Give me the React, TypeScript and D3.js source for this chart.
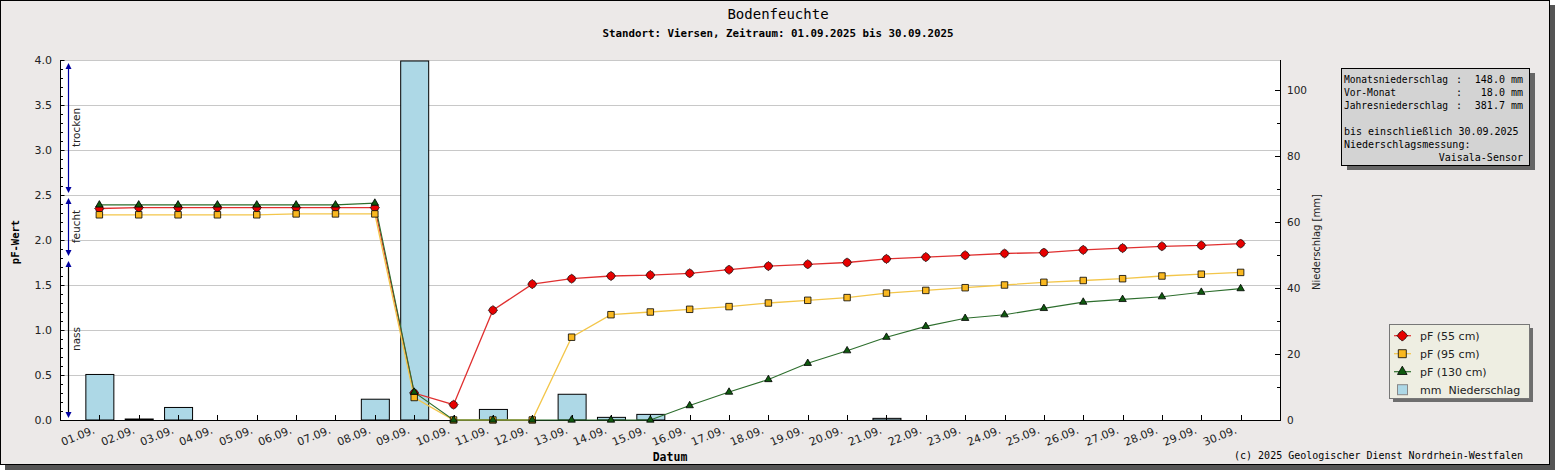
import React from 'react';
import * as d3 from 'd3';

// ---------- data ----------
const dates = [
  '01.09.', '02.09.', '03.09.', '04.09.', '05.09.', '06.09.', '07.09.', '08.09.', '09.09.', '10.09.',
  '11.09.', '12.09.', '13.09.', '14.09.', '15.09.', '16.09.', '17.09.', '18.09.', '19.09.', '20.09.',
  '21.09.', '22.09.', '23.09.', '24.09.', '25.09.', '26.09.', '27.09.', '28.09.', '29.09.', '30.09.',
];
const pf55 = [2.35, 2.36, 2.36, 2.36, 2.36, 2.36, 2.36, 2.36, 0.3, 0.17, 1.22, 1.51, 1.57, 1.6, 1.61, 1.63, 1.67, 1.71, 1.73, 1.75, 1.79, 1.81, 1.83, 1.85, 1.86, 1.89, 1.91, 1.93, 1.94, 1.96];
const pf95 = [2.28, 2.28, 2.28, 2.28, 2.28, 2.29, 2.29, 2.29, 0.25, 0, 0, 0, 0.92, 1.17, 1.2, 1.23, 1.26, 1.3, 1.33, 1.36, 1.41, 1.44, 1.47, 1.5, 1.53, 1.55, 1.57, 1.6, 1.62, 1.64];
const pf130 = [2.39, 2.39, 2.39, 2.39, 2.39, 2.39, 2.39, 2.41, 0.31, 0, 0, 0, 0, 0, 0, 0.16, 0.31, 0.45, 0.63, 0.77, 0.92, 1.04, 1.13, 1.17, 1.24, 1.31, 1.34, 1.37, 1.42, 1.46];
const precip = [13.8, 0.3, 3.8, 0, 0, 0, 0, 6.3, 108.8, 0, 3.2, 0, 7.8, 0.8, 1.7, 0, 0, 0, 0, 0, 0.5, 0, 0, 0, 0, 0, 0, 0, 0, 0];

const pfTicks = [0, 0.5, 1, 1.5, 2, 2.5, 3, 3.5, 4];
const pfMinorTicks = d3.range(0, 41).map((k) => k / 10);
const mmTicks = [0, 10, 20, 30, 40, 50, 60, 70, 80, 90, 100];
const mmLabels = [0, 20, 40, 60, 80, 100];

const zones = [
  { label: 'trocken', top: 4.0, bottom: 2.5, line: '#0000a0' },
  { label: 'feucht', top: 2.5, bottom: 1.8, line: '#0000a0' },
  { label: 'nass', top: 1.8, bottom: 0.0, line: '#000000' },
];

const infoRows = [
  { label: 'Monatsniederschlag', value: '148.0 mm' },
  { label: 'Vor-Monat', value: '18.0 mm' },
  { label: 'Jahresniederschlag', value: '381.7 mm' },
];
const infoFoot = ['bis einschließlich 30.09.2025', 'Niederschlagsmessung:'];
const infoSensor = 'Vaisala-Sensor';

const title = 'Bodenfeuchte';
const subtitle = 'Standort: Viersen, Zeitraum: 01.09.2025 bis 30.09.2025';
const copyright = '(c) 2025 Geologischer Dienst Nordrhein-Westfalen';

// ---------- styles ----------
const MONO = "'DejaVu Sans Mono', 'Liberation Mono', monospace";
const SANS = "'DejaVu Sans', 'Noto Sans', sans-serif";
const BG = '#ece9e8';
const C55 = { line: '#e03030', fill: '#e60000' };
const C95 = { line: '#f3c64a', fill: '#f9b820' };
const C130 = { line: '#2d6e2d', fill: '#0f5a0f' };

const W = 1555;
const H = 470;
const P = { left: 60, right: 1280, top: 60, bottom: 420 };

function redPath(rAxis: number, rCircle: number) {
  const gen = d3
    .lineRadial<number>()
    .angle((a) => a)
    .radius((a) => Math.max(rCircle, rAxis / (Math.abs(Math.cos(a)) + Math.abs(Math.sin(a)))))
    .curve(d3.curveLinearClosed);
  return gen(d3.range(0, 48).map((k) => (k / 48) * Math.PI * 2)) || '';
}

export default function App() {
  const x = d3.scalePoint<string>().domain(dates).range([P.left, P.right]).padding(1);
  const y = d3.scaleLinear().domain([0, 4]).range([P.bottom, P.top]);
  const yR = d3.scaleLinear().domain([0, 109.1]).range([P.bottom, P.top]);

  const line = d3
    .line<number>()
    .x((_, i) => x(dates[i]) as number)
    .y((d) => y(d));

  const redM = redPath(4.6, 3.8);
  const redL = redPath(5.4, 4.2);
  const sq = d3.symbol(d3.symbolSquare, 42)() || '';
  const sqL = d3.symbol(d3.symbolSquare, 64)() || '';
  const tri = d3.symbol(d3.symbolTriangle, 24)() || '';
  const triL = d3.symbol(d3.symbolTriangle, 40)() || '';

  const barW = 28;
  const ax = 68.5;

  const arrow = (tipY: number, dir: number) =>
    `M${ax},${tipY} L${ax - 3},${tipY - dir * 6} L${ax + 3},${tipY - dir * 6} Z`;

  const legendItems = [
    { label: 'pF (55 cm)', c: C55, kind: 'red' },
    { label: 'pF (95 cm)', c: C95, kind: 'sq' },
    { label: 'pF (130 cm)', c: C130, kind: 'tri' },
    { label: 'mm  Niederschlag', c: C55, kind: 'bar' },
  ];

  return (
    <div style={{ position: 'fixed', left: 0, top: 0 }}>
      <svg width={W} height={H} style={{ display: 'block' }}>
        {/* frame */}
        <rect x={5} y={5} width={1550} height={465} fill="#555" />
        <rect x={0.5} y={0.5} width={1549} height={464} fill={BG} stroke="#000" />

        {/* titles */}
        <text x={778} y={19} textAnchor="middle" fontFamily={MONO} fontSize={14} fill="#000">
          {title}
        </text>
        <text x={778} y={37} textAnchor="middle" fontFamily={MONO} fontSize={10.8} fontWeight="bold" fill="#000">
          {subtitle}
        </text>

        {/* plot background */}
        <rect x={P.left} y={P.top} width={P.right - P.left} height={P.bottom - P.top} fill="#fff" />

        {/* grid */}
        {pfTicks.map((t) => (
          <line key={'g' + t} x1={P.left} x2={P.right} y1={Math.round(y(t)) + 0.5} y2={Math.round(y(t)) + 0.5} stroke="#c8c8c8" />
        ))}

        {/* bars */}
        {precip.map((v, i) =>
          v > 0 ? (
            <rect
              key={'b' + i}
              x={(x(dates[i]) as number) - barW / 2 + 0.5}
              y={yR(v)}
              width={barW}
              height={Math.max(P.bottom - yR(v), 0.6)}
              fill="#add8e6"
              stroke="#000"
              strokeWidth={1}
            />
          ) : null
        )}

        {/* axes lines */}
        <line x1={P.left + 0.5} x2={P.left + 0.5} y1={P.top} y2={P.bottom + 1} stroke="#000" />
        <line x1={P.right + 0.5} x2={P.right + 0.5} y1={P.top} y2={P.bottom + 1} stroke="#000" />
        <line x1={P.left} x2={P.right + 1} y1={P.bottom + 0.5} y2={P.bottom + 0.5} stroke="#000" />

        {/* left ticks */}
        {pfMinorTicks.map((t) => (
          <line key={'lm' + t} x1={P.left} x2={P.left + 3} y1={Math.round(y(t)) + 0.5} y2={Math.round(y(t)) + 0.5} stroke="#000" />
        ))}
        {pfTicks.map((t) => (
          <g key={'lt' + t}>
            <line x1={P.left} x2={P.left + 4.5} y1={Math.round(y(t)) + 0.5} y2={Math.round(y(t)) + 0.5} stroke="#000" />
            <text x={52} y={y(t) + 4} textAnchor="end" fontFamily={SANS} fontSize={11} fill="#222">
              {t.toFixed(1)}
            </text>
          </g>
        ))}

        {/* right ticks */}
        {mmTicks.map((t) => (
          <line
            key={'rt' + t}
            x1={P.right - (mmLabels.includes(t) ? 5 : 3)}
            x2={P.right}
            y1={Math.round(yR(t)) + 0.5}
            y2={Math.round(yR(t)) + 0.5}
            stroke="#000"
          />
        ))}
        {mmLabels.map((t) => (
          <text key={'rl' + t} x={1287} y={yR(t) + 4} fontFamily={SANS} fontSize={10.5} fill="#222">
            {t}
          </text>
        ))}
        <text
          transform={`translate(1320,242) rotate(-90)`}
          textAnchor="middle"
          fontFamily={SANS}
          fontSize={10}
          fill="#222"
        >
          Niederschlag [mm]
        </text>

        {/* bottom ticks & labels */}
        {dates.map((d) => {
          const xx = Math.round(x(d) as number) + 0.5;
          return (
            <g key={'xt' + d}>
              <line x1={xx} x2={xx} y1={P.bottom - 5} y2={P.bottom} stroke="#000" />
              <text
                transform={`translate(${xx - 4},433) rotate(-22)`}
                textAnchor="end"
                fontFamily={SANS}
                fontSize={11}
                fill="#222"
              >
                {d}
              </text>
            </g>
          );
        })}
        <text x={670} y={461} textAnchor="middle" fontFamily={MONO} fontSize={11.5} fontWeight="bold" fill="#000">
          Datum
        </text>
        <text
          transform={`translate(19,242) rotate(-90)`}
          textAnchor="middle"
          fontFamily={MONO}
          fontSize={10.5}
          fontWeight="bold"
          fill="#000"
        >
          pF-Wert
        </text>

        {/* zone annotations */}
        {zones.map((z) => {
          const yt = y(z.top) + 3;
          const yb = y(z.bottom) - 2;
          const mid = (y(z.top) + y(z.bottom)) / 2;
          return (
            <g key={z.label}>
              <line x1={ax} x2={ax} y1={yt + 3} y2={yb - 3} stroke={z.line} strokeWidth={1.2} />
              <path d={arrow(yt, -1)} fill="#0000a0" />
              <path d={arrow(yb, 1)} fill="#0000a0" />
              <text
                transform={`translate(80,${mid}) rotate(-90)`}
                textAnchor="middle"
                fontFamily={SANS}
                fontSize={10.5}
                fill="#222"
              >
                {z.label}
              </text>
            </g>
          );
        })}

        {/* lines */}
        <path d={line(pf55) || ''} fill="none" stroke={C55.line} strokeWidth={1.3} />
        <path d={line(pf95) || ''} fill="none" stroke={C95.line} strokeWidth={1.3} />
        <path d={line(pf130) || ''} fill="none" stroke={C130.line} strokeWidth={1.1} />

        {/* markers */}
        {pf55.map((v, i) => (
          <path key={'m55' + i} d={redM} transform={`translate(${x(dates[i])},${y(v)})`} fill={C55.fill} stroke="#000" strokeWidth={0.8} />
        ))}
        {pf95.map((v, i) => (
          <path key={'m95' + i} d={sq} transform={`translate(${x(dates[i])},${y(v)})`} fill={C95.fill} stroke="#000" strokeWidth={0.8} />
        ))}
        {pf130.map((v, i) => (
          <path key={'m130' + i} d={tri} transform={`translate(${x(dates[i])},${y(v)})`} fill={C130.fill} stroke="#000" strokeWidth={0.8} />
        ))}

        {/* info box */}
        <rect x={1347} y={73} width={188} height={97} fill="#666" />
        <rect x={1341.5} y={68.5} width={188} height={97} fill="#d3d3d3" stroke="#000" />
        {infoRows.map((r, i) => (
          <g key={r.label} fontFamily={MONO} fill="#000">
            <text x={1344} y={83 + i * 13} fontSize={9.6}>{r.label}</text>
            <text x={1459} y={83 + i * 13} fontSize={10} textAnchor="middle">:</text>
            <text x={1523} y={83 + i * 13} fontSize={10} textAnchor="end">{r.value}</text>
          </g>
        ))}
        {infoFoot.map((t, i) => (
          <text key={t} x={1344} y={134.5 + i * 13} fontFamily={MONO} fontSize={10} fill="#000">
            {t}
          </text>
        ))}
        <text x={1523} y={160.5} textAnchor="end" fontFamily={MONO} fontSize={10} fill="#000">
          {infoSensor}
        </text>

        {/* legend */}
        <rect x={1393} y={328} width={140} height={74} fill="#6e6e6e" />
        <rect x={1389.5} y={324.5} width={140} height={74} fill="#eeeee2" stroke="#777" />
        {legendItems.map((it, i) => {
          const cy = 335.7 + i * 18;
          return (
            <g key={it.label}>
              {it.kind !== 'bar' && (
                <line x1={1394} x2={1411} y1={cy} y2={cy} stroke={it.c.line} strokeWidth={1.2} />
              )}
              {it.kind === 'red' && (
                <path d={redL} transform={`translate(1402.3,${cy})`} fill={it.c.fill} stroke="#000" strokeWidth={0.8} />
              )}
              {it.kind === 'sq' && (
                <path d={sqL} transform={`translate(1402.3,${cy})`} fill={it.c.fill} stroke="#000" strokeWidth={0.8} />
              )}
              {it.kind === 'tri' && (
                <path d={triL} transform={`translate(1402.3,${cy})`} fill={it.c.fill} stroke="#000" strokeWidth={0.8} />
              )}
              {it.kind === 'bar' && (
                <rect x={1397.5} y={cy - 5} width={10} height={10} fill="#add8e6" stroke="#888" />
              )}
              <text x={1420} y={cy + 4} fontFamily={SANS} fontSize={11} fill="#222" style={{ whiteSpace: 'pre' }}>
                {it.label}
              </text>
            </g>
          );
        })}

        {/* copyright */}
        <text x={1523} y={458.5} textAnchor="end" fontFamily={MONO} fontSize={10} fill="#000">
          {copyright}
        </text>
      </svg>
    </div>
  );
}
